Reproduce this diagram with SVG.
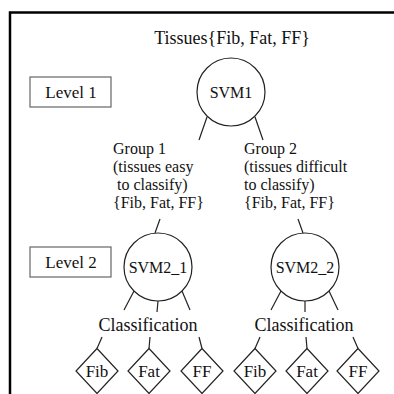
<svg xmlns="http://www.w3.org/2000/svg" width="394" height="394" viewBox="0 0 394 394" font-family="'Liberation Serif','Times New Roman',serif">
<style>
text{font-family:"Liberation Serif","Times New Roman",serif;fill:#111}
.c{fill:#fff;stroke:#222;stroke-width:1.2}
.lv{fill:#fff;stroke:#666;stroke-width:1.2}
.d{fill:#fff;stroke:#222;stroke-width:1.2}
.ln{stroke:#222;stroke-width:1.2;fill:none}
.m{text-anchor:middle}
</style>
<rect width="394" height="394" fill="#fff"/>
<path d="M10,394 V12.5 H394" fill="none" stroke="#000" stroke-width="2.5"/>
<text class="m" x="232" y="44" font-size="18">Tissues{Fib, Fat, FF}</text>
<g id="level1"><rect class="lv" x="30" y="77" width="81" height="30"/><text class="m" x="71" y="98" font-size="17">Level 1</text></g>
<g id="level2"><rect class="lv" x="30" y="247" width="81" height="30"/><text class="m" x="71" y="268" font-size="17">Level 2</text></g>
<g id="connectors">
<line class="ln" x1="207" y1="117" x2="199" y2="140"/>
<line class="ln" x1="255" y1="117" x2="263" y2="140"/>
<line class="ln" x1="160" y1="219" x2="155" y2="233"/>
<line class="ln" x1="298" y1="219" x2="303" y2="233"/>
<line class="ln" x1="134" y1="291" x2="124" y2="310"/>
<line class="ln" x1="158" y1="301" x2="157" y2="312"/>
<line class="ln" x1="182" y1="291" x2="190" y2="310"/>
<line class="ln" x1="281" y1="291" x2="271" y2="310"/>
<line class="ln" x1="305" y1="301" x2="305" y2="312"/>
<line class="ln" x1="329" y1="291" x2="338" y2="310"/>
<line class="ln" x1="102" y1="337" x2="97" y2="348.5"/>
<line class="ln" x1="150" y1="337" x2="149" y2="348.5"/>
<line class="ln" x1="199" y1="337" x2="202" y2="348.5"/>
<line class="ln" x1="260" y1="337" x2="255" y2="348.5"/>
<line class="ln" x1="306" y1="337" x2="307" y2="348.5"/>
<line class="ln" x1="353" y1="337" x2="358" y2="348.5"/>
</g>
<g id="svm1"><circle class="c" cx="231" cy="92" r="34"/><text class="m" x="231" y="98" font-size="16">SVM1</text></g>
<g id="group1"><text x="113" font-size="16"><tspan x="113" y="154">Group 1</tspan><tspan x="113" y="172">(tissues easy</tspan><tspan x="117" y="190">to classify)</tspan><tspan x="113" y="208">{Fib, Fat, FF}</tspan></text></g>
<g id="group2"><text x="244" font-size="16"><tspan x="244" y="154">Group 2</tspan><tspan x="244" y="172">(tissues difficult</tspan><tspan x="244" y="190">to classify)</tspan><tspan x="244" y="208">{Fib, Fat, FF}</tspan></text></g>
<g id="svm2_1"><circle class="c" cx="158" cy="267" r="34"/><text class="m" x="158" y="273" font-size="16">SVM2_1</text></g>
<g id="svm2_2"><circle class="c" cx="305" cy="267" r="34"/><text class="m" x="305" y="273" font-size="16">SVM2_2</text></g>
<g id="class1"><text class="m" x="148" y="331" font-size="18">Classification</text></g>
<g id="class2"><text class="m" x="304" y="331" font-size="18">Classification</text></g>
<g id="fib1"><path class="d" d="M97,348.5 L118,371 L97,393.5 L76,371 Z"/><text class="m" x="97" y="377" font-size="17">Fib</text></g>
<g id="fat1"><path class="d" d="M149,348.5 L170,371 L149,393.5 L128,371 Z"/><text class="m" x="149" y="377" font-size="17">Fat</text></g>
<g id="ff1"><path class="d" d="M202,348.5 L223,371 L202,393.5 L181,371 Z"/><text class="m" x="202" y="377" font-size="17">FF</text></g>
<g id="fib2"><path class="d" d="M255,348.5 L276,371 L255,393.5 L234,371 Z"/><text class="m" x="255" y="377" font-size="17">Fib</text></g>
<g id="fat2"><path class="d" d="M307,348.5 L328,371 L307,393.5 L286,371 Z"/><text class="m" x="307" y="377" font-size="17">Fat</text></g>
<g id="ff2"><path class="d" d="M358,348.5 L379,371 L358,393.5 L337,371 Z"/><text class="m" x="358" y="377" font-size="17">FF</text></g>
</svg>
